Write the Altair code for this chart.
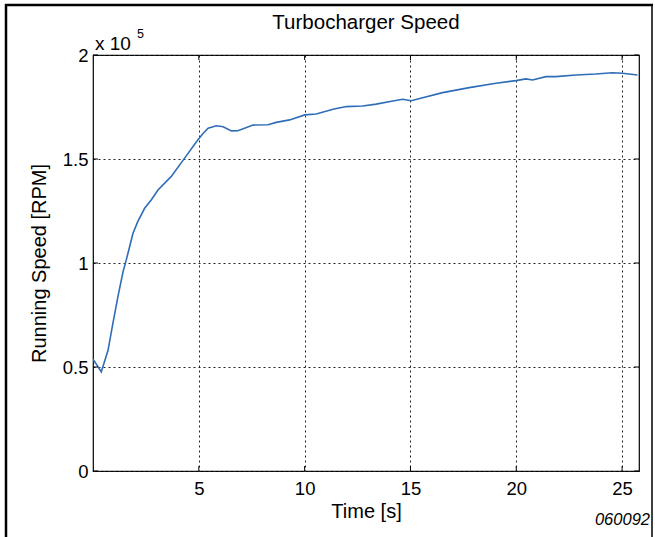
import altair as alt
import pandas as pd

time_s = [0, 0.18, 0.39, 0.52, 0.71, 0.94, 1.18, 1.42, 1.57, 1.73, 1.89, 2.12, 2.44, 2.75,
          3.07, 3.69, 4.32, 4.95, 5.2, 5.44, 5.83, 6.15, 6.54, 6.85, 7.56, 8.27, 8.66,
          9.29, 10.01, 10.55, 11.34, 11.97, 12.75, 13.38, 14.17, 14.64, 15.03, 15.35,
          16.52, 17.78, 19.04, 19.98, 20.46, 20.77, 21.4, 21.87, 22.82, 23.76, 24.54,
          25.02, 25.73]
speed_e5 = [0.537, 0.51, 0.477, 0.518, 0.58, 0.71, 0.84, 0.958, 1.014, 1.078, 1.143, 1.2,
            1.263, 1.303, 1.351, 1.415, 1.503, 1.591, 1.623, 1.648, 1.66, 1.655, 1.635,
            1.636, 1.663, 1.665, 1.676, 1.688, 1.712, 1.716, 1.739, 1.752, 1.755, 1.764,
            1.779, 1.787, 1.78, 1.788, 1.819, 1.843, 1.864, 1.877, 1.885, 1.88, 1.896,
            1.896, 1.904, 1.909, 1.915, 1.912, 1.904]
x_ticks = [5, 10, 15, 20, 25]
y_ticks = [0, 50000, 100000, 150000, 200000]
title_text = "Turbocharger Speed"

W, H = 546, 416
FONT = "Liberation Sans"

df = pd.DataFrame({"t": time_s, "rpm": [v * 1e5 for v in speed_e5]})
xt = pd.DataFrame({"t": x_ticks})
yt = pd.DataFrame({"rpm": y_ticks})

xs = alt.Scale(domain=[0, 25.8], nice=False, zero=False)
ys = alt.Scale(domain=[0, 200000], nice=False)

line = alt.Chart(df).mark_line(color="#2f6db8", strokeWidth=1.6, clip=True).encode(
    x=alt.X("t:Q", scale=xs,
            axis=alt.Axis(values=x_ticks, title="Time [s]", grid=True, ticks=False,
                          domain=False, labelPadding=8, titlePadding=4)),
    y=alt.Y("rpm:Q", scale=ys,
            axis=alt.Axis(values=y_ticks, title="Running Speed [RPM]", grid=True,
                          ticks=False, domain=False, labelPadding=5, titlePadding=13,
                          labelExpr="format(datum.value/100000, '~g')")),
)

xtick_b = alt.Chart(xt).mark_rule(color="black", strokeWidth=1).encode(
    x=alt.X("t:Q", scale=xs), y=alt.value(H), y2=alt.value(H - 5))
xtick_t = alt.Chart(xt).mark_rule(color="black", strokeWidth=1).encode(
    x=alt.X("t:Q", scale=xs), y=alt.value(0), y2=alt.value(5))
ytick_l = alt.Chart(yt).mark_rule(color="black", strokeWidth=1).encode(
    y=alt.Y("rpm:Q", scale=ys), x=alt.value(0), x2=alt.value(5))
ytick_r = alt.Chart(yt).mark_rule(color="black", strokeWidth=1).encode(
    y=alt.Y("rpm:Q", scale=ys), x=alt.value(W), x2=alt.value(W - 5))

base_txt = alt.Chart(pd.DataFrame({"a": [0]}))
title = base_txt.mark_text(text=title_text, font=FONT, fontSize=20.5, align="center",
                           baseline="alphabetic", color="black").encode(
    x=alt.value(W / 2), y=alt.value(-26))
x10 = base_txt.mark_text(text="x 10", font=FONT, fontSize=19, align="left",
                         baseline="alphabetic", color="black").encode(
    x=alt.value(2), y=alt.value(-5))
sup = base_txt.mark_text(text="5", font=FONT, fontSize=12.5, align="left",
                         baseline="alphabetic", color="black").encode(
    x=alt.value(44), y=alt.value(-17))
code = base_txt.mark_text(text="060092", font=FONT, fontSize=16.5, fontStyle="italic",
                          align="right", baseline="middle", color="black").encode(
    x=alt.value(W + 11), y=alt.value(H + 49))

frame_top = base_txt.mark_rule(color="black", strokeWidth=2.5).encode(
    x=alt.value(-88), x2=alt.value(W + 14), y=alt.value(-50))
frame_left = base_txt.mark_rule(color="black", strokeWidth=2.5).encode(
    x=alt.value(-87), y=alt.value(-51), y2=alt.value(H + 70))
frame_right = base_txt.mark_rule(color="black", strokeWidth=1.5).encode(
    x=alt.value(W + 13), y=alt.value(-51), y2=alt.value(H + 70))

chart = alt.layer(
    line, xtick_b, xtick_t, ytick_l, ytick_r, title, x10, sup, code,
    frame_top, frame_left, frame_right
).properties(
    width=W, height=H,
    autosize=alt.AutoSizeParams(type="none"),
    padding={"left": 93, "top": 55, "right": 16, "bottom": 66},
    background="white",
).configure_view(
    stroke="black", strokeWidth=1.2
).configure_axis(
    labelFont=FONT, titleFont=FONT, labelFontSize=18.5, titleFontSize=20,
    labelColor="black", titleColor="black", titleFontWeight="normal",
    gridColor="#222222", gridDash=[2, 3], gridWidth=1, gridOpacity=1
)

chart.save("out.html", embed_options={"renderer": "svg", "actions": False})
